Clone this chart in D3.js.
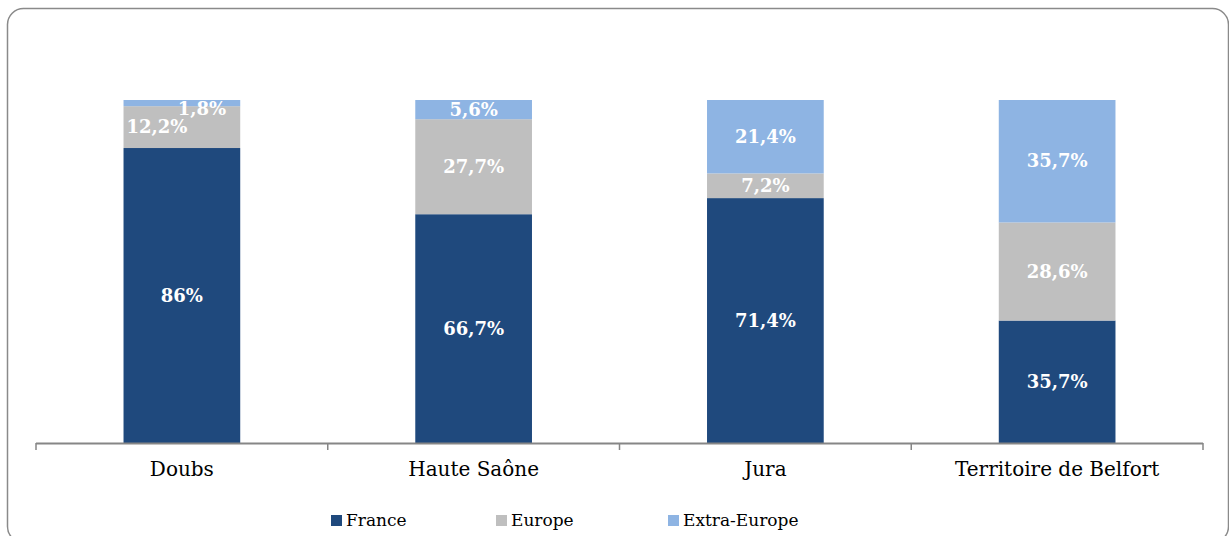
<!DOCTYPE html>
<html><head><meta charset="utf-8">
<script src="https://cdn.jsdelivr.net/npm/d3@7"></script>
<style>
html,body{margin:0;padding:0;background:#fff;}
svg{display:block;}
text{font-family:"DejaVu Serif","Liberation Serif",serif;}
</style></head>
<body>
<svg id="chart" width="1229" height="536"></svg>
<script>
const categories = ["Doubs", "Haute Saône", "Jura", "Territoire de Belfort"];
const seriesNames = ["France", "Europe", "Extra-Europe"];
const france = [86, 66.7, 71.4, 35.7];
const europe = [12.2, 27.7, 7.2, 28.6];
const extraEurope = [1.8, 5.6, 21.4, 35.7];
const labelFrance = ["86%", "66,7%", "71,4%", "35,7%"];
const labelEurope = ["12,2%", "27,7%", "7,2%", "28,6%"];
const labelExtra = ["1,8%", "5,6%", "21,4%", "35,7%"];

const colors = ["#1F497D", "#BFBFBF", "#8EB4E3"];

const svg = d3.select("#chart");

// frame
svg.append("rect").attr("x", 7.5).attr("y", 8.5).attr("width", 1221).attr("height", 534)
  .attr("rx", 16).attr("ry", 16).attr("fill", "none").attr("stroke", "#8a8a8a").attr("stroke-width", 1.5);

const x = d3.scaleBand().domain(categories).range([36, 1203]).paddingInner(0.6).paddingOuter(0.3);
const y = d3.scaleLinear().domain([0, 100]).range([443, 100]);

const rows = categories.map((c, i) => ({cat: c, France: france[i], Europe: europe[i], "Extra-Europe": extraEurope[i]}));
const stack = d3.stack().keys(seriesNames)(rows);
const labels = [labelFrance, labelEurope, labelExtra];

// label placement for the narrow Doubs segments
const special = {"0-1": {dx: -25, y: 133}, "0-2": {dx: 20, y: 115}};

stack.forEach((layer, si) => {
  svg.append("g").selectAll("rect").data(layer).join("rect")
    .attr("x", d => x(d.data.cat))
    .attr("width", x.bandwidth())
    .attr("y", d => y(d[1]))
    .attr("height", d => y(d[0]) - y(d[1]))
    .attr("fill", colors[si]);
});

stack.forEach((layer, si) => {
  svg.append("g").selectAll("text").data(layer).join("text")
    .attr("x", (d, i) => x(d.data.cat) + x.bandwidth() / 2 + ((special[i + "-" + si] || {}).dx || 0))
    .attr("y", (d, i) => {
      const s = special[i + "-" + si];
      if (s) return s.y;
      return (y(d[0]) + y(d[1])) / 2 + 6;
    })
    .attr("text-anchor", "middle")
    .attr("fill", "#fff")
    .attr("font-weight", "bold")
    .attr("font-size", 18)
    .text((d, i) => labels[si][i]);
});

// axis
const axisG = svg.append("g");
axisG.append("line").attr("x1", 36).attr("x2", 1203).attr("y1", 443.5).attr("y2", 443.5)
  .attr("stroke", "#868686").attr("stroke-width", 2);
const tickXs = d3.range(categories.length + 1).map(i => 36 + i * (1167 / categories.length));
axisG.selectAll("line.t").data(tickXs).join("line").attr("class", "t")
  .attr("x1", d => d).attr("x2", d => d).attr("y1", 443).attr("y2", 450)
  .attr("stroke", "#868686").attr("stroke-width", 1.5);
axisG.selectAll("text").data(categories).join("text")
  .attr("x", d => x(d) + x.bandwidth() / 2).attr("y", 476)
  .attr("text-anchor", "middle").attr("font-size", 20).attr("fill", "#000")
  .text(d => d);

// legend
const legendX = [331, 496, 668];
const lg = svg.append("g");
seriesNames.forEach((s, i) => {
  lg.append("rect").attr("x", legendX[i]).attr("y", 515).attr("width", 11).attr("height", 11).attr("fill", colors[i]);
  lg.append("text").attr("x", legendX[i] + 15).attr("y", 526).attr("font-size", 17).attr("fill", "#000").text(s);
});
</script>
</body></html>
